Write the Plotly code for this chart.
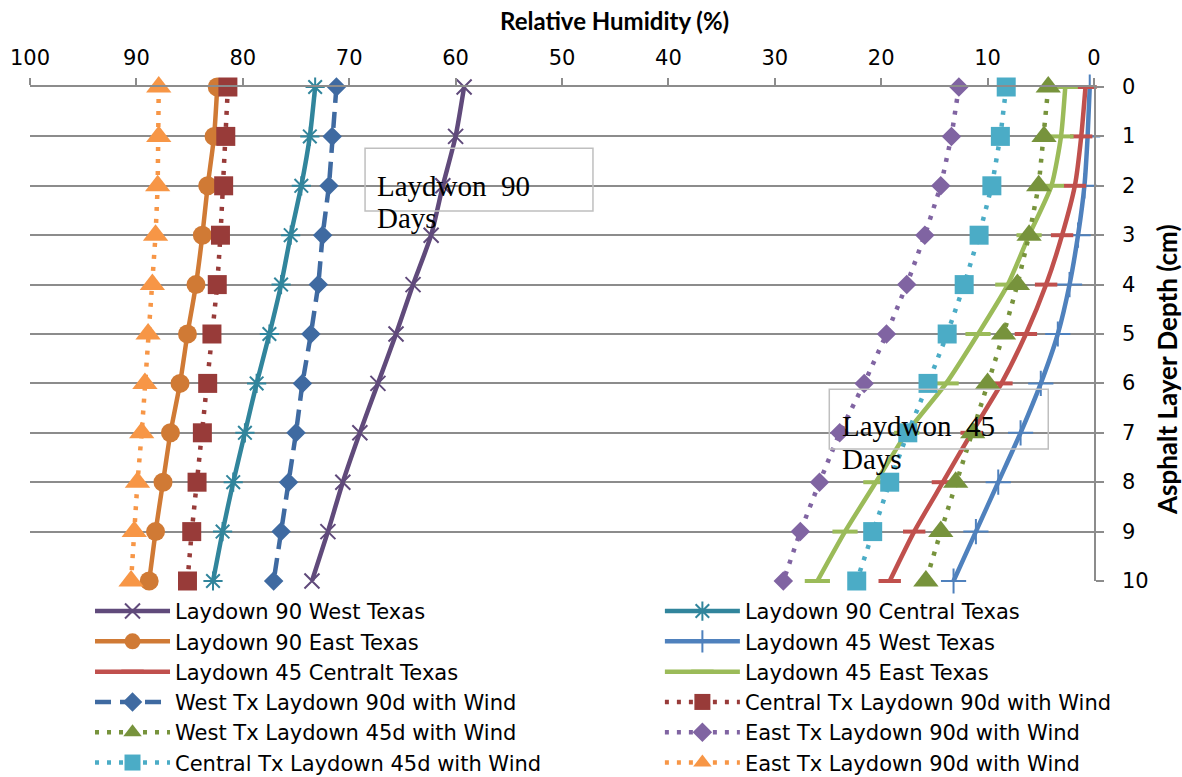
import plotly.graph_objects as go

depth = [0, 1, 2, 3, 4, 5, 6, 7, 8, 9, 10]

l90_west = [59.2, 60.0, 61.2, 62.3, 64.0, 65.6, 67.3, 69.0, 70.6, 72.0, 73.5]
l90_central = [73.2, 73.7, 74.5, 75.5, 76.4, 77.5, 78.7, 79.8, 80.9, 81.9, 82.8]
l90_east = [82.4, 82.7, 83.3, 83.8, 84.4, 85.2, 85.9, 86.8, 87.5, 88.2, 88.8]
l45_west = [0.4, 0.6, 0.9, 1.5, 2.3, 3.4, 5.0, 6.9, 9.0, 11.1, 13.2]
l45_central = [0.8, 1.2, 1.8, 3.0, 4.5, 6.4, 8.7, 11.5, 14.2, 16.9, 19.2]
l45_east = [2.7, 3.1, 4.0, 6.1, 8.1, 10.9, 13.9, 17.6, 20.5, 23.4, 26.0]
west90_wind = [71.2, 71.6, 71.9, 72.5, 72.9, 73.6, 74.4, 75.0, 75.7, 76.4, 77.1]
central90_wind = [81.4, 81.6, 81.8, 82.1, 82.4, 82.9, 83.3, 83.8, 84.3, 84.8, 85.2]
west45_wind = [4.3, 4.7, 5.2, 6.1, 7.2, 8.5, 10.0, 11.4, 13.0, 14.4, 15.8]
east90_wind_purple = [12.7, 13.4, 14.4, 15.9, 17.6, 19.5, 21.6, 23.9, 25.8, 27.6, 29.2]
central45_wind = [8.25, 8.8, 9.6, 10.8, 12.2, 13.8, 15.6, 17.5, 19.2, 20.8, 22.3]
east90_wind_orange = [87.9, 87.9, 88.0, 88.2, 88.5, 88.9, 89.2, 89.5, 89.9, 90.2, 90.5]

x_ticks = [100, 90, 80, 70, 60, 50, 40, 30, 20, 10, 0]
y_ticks = [0, 1, 2, 3, 4, 5, 6, 7, 8, 9, 10]

DOT = "4px,8px"
DASH = "16px,9px"

# (name, values, colour, dash, shape, marker, legend column)
series = [
    ("Laydown 90 West Texas", l90_west, "#604a7b", "solid", "spline",
     dict(symbol="x-thin-open", size=15, line=dict(width=2, color="#604a7b")), "legend"),
    ("Laydown 90 Central Texas", l90_central, "#31859c", "solid", "spline",
     dict(symbol="asterisk-open", size=16, line=dict(width=2, color="#31859c")), "legend2"),
    ("Laydown 90 East Texas", l90_east, "#d07a35", "solid", "spline",
     dict(symbol="circle", size=19, color="#d07a35"), "legend"),
    ("Laydown 45 West Texas", l45_west, "#4f81bd", "solid", "spline",
     dict(symbol="cross-thin-open", size=18, line=dict(width=2, color="#4f81bd")), "legend2"),
    ("Laydown 45 Centralt Texas", l45_central, "#c0504d", "solid", "spline",
     dict(symbol="line-ew-open", size=16, line=dict(width=4, color="#c0504d")), "legend"),
    ("Laydown 45 East Texas", l45_east, "#9bbb59", "solid", "spline",
     dict(symbol="line-ew-open", size=18, line=dict(width=4, color="#9bbb59")), "legend2"),
    ("West Tx Laydown 90d with Wind", west90_wind, "#3f6aa1", DASH, "linear",
     dict(symbol="diamond", size=15, color="#3f6aa1"), "legend"),
    ("Central Tx Laydown 90d with Wind", central90_wind, "#983b39", DOT, "linear",
     dict(symbol="square", size=19, color="#983b39"), "legend2"),
    ("West Tx Laydown 45d with Wind", west45_wind, "#77933c", DOT, "linear",
     dict(symbol="triangle-up", size=22, color="#77933c"), "legend"),
    ("East Tx Laydown 90d with Wind", east90_wind_purple, "#8064a2", DOT, "linear",
     dict(symbol="diamond", size=15, color="#8064a2"), "legend2"),
    ("Central Tx Laydown 45d with Wind", central45_wind, "#4bacc6", DOT, "linear",
     dict(symbol="square", size=19, color="#4bacc6"), "legend"),
    ("East Tx Laydown 90d with Wind", east90_wind_orange, "#f79646", DOT, "linear",
     dict(symbol="triangle-up", size=22, color="#f79646"), "legend2"),
]

fig = go.Figure()
for name, vals, color, dash, shape, marker, leg in series:
    fig.add_trace(go.Scatter(
        x=vals, y=depth, name=name, mode="lines+markers",
        line=dict(color=color, width=4.5, dash=dash, shape=shape, smoothing=0.6),
        marker=marker, cliponaxis=False, legend=leg,
    ))

FONT = "DejaVu Sans, sans-serif"
TFONT = "Lato, sans-serif"
GRID = "#8c8c8c"

leg_common = dict(
    orientation="v", yanchor="top", xanchor="left",
    itemwidth=75, font=dict(family=FONT, size=21, color="black"),
    bgcolor="rgba(0,0,0,0)", borderwidth=0, tracegroupgap=0,
)

fig.update_layout(
    width=1182, height=777,
    margin=dict(l=30, r=88, t=87, b=196, autoexpand=False),
    paper_bgcolor="white", plot_bgcolor="white",
    font=dict(family=FONT, size=21, color="black"),
    showlegend=True,
    legend=dict(x=0.0564, y=-0.020, **leg_common),
    legend2=dict(x=0.592, y=-0.020, **leg_common),
    xaxis=dict(
        side="top", range=[100, 0], tickvals=x_ticks, ticktext=[str(v) for v in x_ticks],
        showgrid=False, zeroline=False, showline=True, linecolor=GRID, linewidth=1.5,
        ticks="outside", ticklen=7, tickcolor=GRID, tickwidth=1.5,
        ticklabelstandoff=5,
        tickfont=dict(family=FONT, size=21, color="black"),
    ),
    yaxis=dict(
        side="right", range=[10, 0], tickvals=y_ticks, showticklabels=False,
        showgrid=True, gridcolor=GRID, gridwidth=1.5, zeroline=False,
        showline=True, linecolor=GRID, linewidth=1.5,
        ticks="outside", ticklen=8, tickcolor=GRID, tickwidth=1.5,
    ),
)

# right-axis tick labels (placed a little further from the axis, as in the original)
for v in y_ticks:
    fig.add_annotation(text=str(v), xref="paper", yref="y", x=1.0245, y=v,
                       showarrow=False, xanchor="left", yanchor="middle",
                       font=dict(family=FONT, size=21, color="black"))

# axis titles
fig.add_annotation(text="<b>Relative Humidity (%)</b>", xref="paper", yref="paper",
                   x=0.5498, y=1.1356, showarrow=False, xanchor="center", yanchor="middle",
                   font=dict(family=TFONT, size=24, color="black"))
fig.add_annotation(text="<b>Asphalt Layer Depth (cm)</b>", xref="paper", yref="paper",
                   x=1.0686, y=0.429, showarrow=False, xanchor="center", yanchor="middle",
                   textangle=-90, font=dict(family=TFONT, size=26, color="black"))

BOX = "#bfbfbf"
fig.add_shape(type="rect", xref="x", yref="y", x0=68.51, x1=47.09, y0=1.24, y1=2.51,
              line=dict(color=BOX, width=1.5), fillcolor="rgba(0,0,0,0)", layer="above")
fig.add_shape(type="rect", xref="x", yref="y", x0=24.88, x1=4.30, y0=6.12, y1=7.33,
              line=dict(color=BOX, width=1.5), fillcolor="rgba(0,0,0,0)", layer="above")

SERIF = "Liberation Serif, Times New Roman, serif"
for txt, xv, yv in [("Laydwon\u00a0 90", 67.55, 2.0), ("Days", 67.55, 2.65),
                    ("Laydwon\u00a0 45", 23.85, 6.86), ("Days", 23.85, 7.53)]:
    fig.add_annotation(text=txt, x=xv, y=yv, xref="x", yref="y", showarrow=False,
                       xanchor="left", yanchor="middle",
                       font=dict(family=SERIF, size=29, color="black"))

fig.write_html("out.html")
